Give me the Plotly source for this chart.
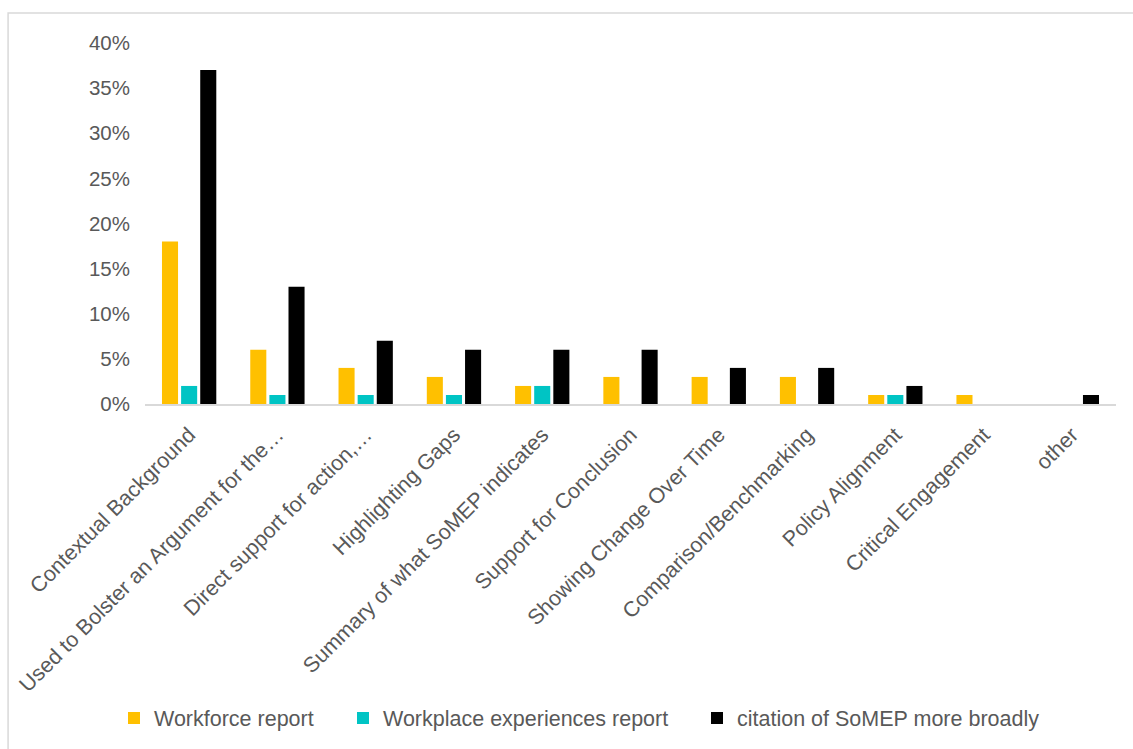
import plotly.graph_objects as go

# Categories of how the SoMEP reports were used
categories = [
    "Contextual Background",
    "Used to Bolster an Argument for the…",
    "Direct support for action,…",
    "Highlighting Gaps",
    "Summary of what SoMEP indicates",
    "Support for Conclusion",
    "Showing Change Over Time",
    "Comparison/Benchmarking",
    "Policy Alignment",
    "Critical Engagement",
    "other",
]

# Share of citations (fractions)
workforce_report = [0.18, 0.06, 0.04, 0.03, 0.02, 0.03, 0.03, 0.03, 0.01, 0.01, 0.0]
workplace_experiences_report = [0.02, 0.01, 0.01, 0.01, 0.02, 0.0, 0.0, 0.0, 0.01, 0.0, 0.0]
citation_broadly = [0.37, 0.13, 0.07, 0.06, 0.06, 0.06, 0.04, 0.04, 0.02, 0.0, 0.01]

series_names = [
    "Workforce report",
    "Workplace experiences report",
    "citation of SoMEP more broadly",
]
series_colors = ["#FFC000", "#00C4C4", "#000000"]
series_values = [workforce_report, workplace_experiences_report, citation_broadly]
legend_ids = ["legend", "legend2", "legend3"]

FONT = "Liberation Sans, Arial, sans-serif"
TEXT_COLOR = "#595959"

# Plot area in pixels (used to place the legend entries along the bottom)
PLOT_LEFT = 145
PLOT_WIDTH = 1133 - 145 - 17
legend_left_px = [114, 343, 697]

fig = go.Figure()
for name, color, values, lid in zip(series_names, series_colors, series_values, legend_ids):
    fig.add_trace(
        go.Bar(
            x=categories,
            y=values,
            name=name,
            legend=lid,
            marker=dict(color=color, line=dict(width=0)),
        )
    )

legend_style = dict(
    orientation="h",
    xanchor="left",
    y=-0.865,
    yanchor="middle",
    font=dict(family=FONT, size=21.5, color=TEXT_COLOR),
    itemwidth=30,
    bgcolor="rgba(0,0,0,0)",
)
legends = {
    lid: dict(legend_style, x=(px - PLOT_LEFT) / PLOT_WIDTH)
    for lid, px in zip(legend_ids, legend_left_px)
}

fig.update_layout(
    width=1133,
    height=749,
    margin=dict(l=145, r=17, t=43, b=344),
    paper_bgcolor="white",
    plot_bgcolor="white",
    barmode="group",
    bargap=0.35,
    bargroupgap=0.16,
    font=dict(family=FONT, size=20, color=TEXT_COLOR),
    showlegend=True,
    shapes=[
        dict(
            type="rect",
            xref="paper",
            yref="paper",
            x0=-0.141,
            x1=1.03,
            y0=-1.0,
            y1=1.083,
            line=dict(color="#D9D9D9", width=1.5),
            fillcolor="rgba(0,0,0,0)",
            layer="below",
        )
    ],
    **legends,
)

fig.update_xaxes(
    type="category",
    tickangle=-45,
    showline=True,
    linecolor="#D9D9D9",
    linewidth=1.5,
    showgrid=False,
    ticks="",
    ticklabelstandoff=8,
    tickfont=dict(family=FONT, size=21.5, color=TEXT_COLOR),
)

fig.update_yaxes(
    range=[0, 0.40],
    dtick=0.05,
    tickformat=".0%",
    showgrid=False,
    showline=False,
    zeroline=False,
    ticks="",
    ticklabelstandoff=14,
    tickfont=dict(family=FONT, size=20.5, color=TEXT_COLOR),
)

fig.write_html("out.html")
